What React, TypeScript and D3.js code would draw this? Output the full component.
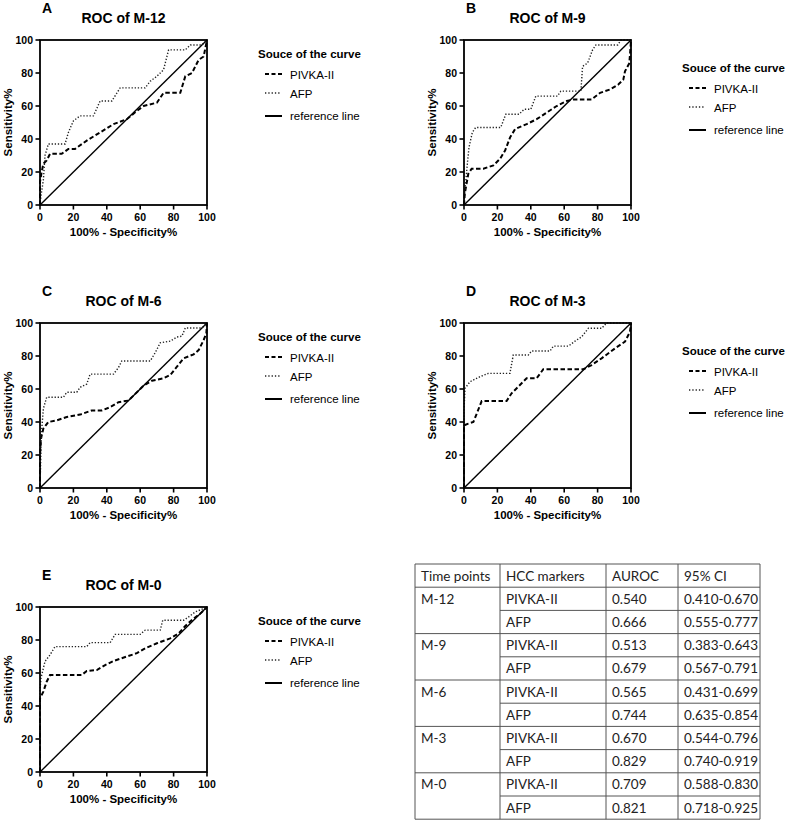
import React from "react";
import * as d3 from "d3";

type Pt = [number, number];

// ROC curves: [100% - Specificity%, Sensitivity%]
const pivkaM12: Pt[] = [[0,0],[0,14],[1,20],[2,25],[4,27],[6,31],[13,31],[17,34],[21,34],[28,39],[36,44],[44,49],[52,52],[58,57],[62,60],[70,62],[74,68],[84,68],[87,78],[91,80],[95,88],[98,90],[100,100]];
const afpM12: Pt[] = [[0,0],[0.5,5],[2,15],[3,30],[5,37],[15,37],[17,44],[20,51],[24,54],[32,54],[36,63],[43,63],[48,71],[63,71],[66,75],[70,78],[74,82],[77,94],[87,94],[90,97],[97,97],[100,100]];
const pivkaM9: Pt[] = [[0,0],[0.5,7],[2.6,19],[4.6,22],[11.6,22],[17.6,24],[21.6,28],[24.6,33],[27.6,41],[30.6,46],[37.5,49],[43.5,52],[49.5,56],[55.5,60],[61.5,63],[65.5,64],[76.4,64],[81.5,68],[87.4,70],[92.4,73],[95.4,76],[96.4,81],[99,86],[99.6,94],[100,100]];
const afpM9: Pt[] = [[0,0],[0.5,8],[2,25],[3,35],[5,44],[7,47],[22,47],[25,55],[33,55],[36,58],[40,58],[43,66],[56,66],[58,69],[70,69],[71,84],[74,86],[77,94],[79,97],[92,97],[94,100],[100,100]];
const pivkaM6: Pt[] = [[0,0],[0,20],[0.6,30],[2,36],[5,40],[10,41],[16,43],[24,44.5],[31,47],[37,47],[42,49],[47,52],[53,53],[56,56],[62,62],[67,65],[74,66.5],[78,68.5],[82,73.5],[86,78.6],[92,81],[95,83.6],[98,89.7],[99.6,93.7],[100,100]];
const afpM6: Pt[] = [[0,0],[0.5,20],[1,35],[2,48],[4,55],[14,55],[16,58],[22,58],[24,61],[28,63],[30,69],[44,69],[47,73],[49,77],[66,77],[69,82],[72,88],[78,89],[82,91.5],[85,92],[87,97],[97,97],[100,100]];
const pivkaM3: Pt[] = [[0,0],[0,38],[2.6,39],[5.6,40],[7.6,45],[10.6,52.7],[25.5,52.7],[28.5,57.4],[32.5,61.4],[37.5,66.5],[43.5,66.5],[47.5,72],[71.5,72],[76.4,74.5],[82.4,78.6],[90.4,84.6],[96.4,88.7],[99.4,94.7],[100,100]];
const afpM3: Pt[] = [[0,0],[0,47],[0.6,60.4],[3.6,64.4],[9.6,67.5],[14.6,69.5],[27.5,69.5],[29.5,80.6],[38.5,80.6],[40.5,83],[51.5,83],[53.5,86],[62.5,86],[66.5,89],[70.5,91.7],[74.5,96.8],[82.4,96.8],[85.4,100],[100,100]];
const pivkaM0: Pt[] = [[0,0],[0,44.6],[2,48.7],[4,54.7],[6,58.8],[25,58.8],[28,61.2],[34,61.8],[39,64.8],[44,67.3],[52,70],[58,72],[63,75],[70,78],[78,81],[83,84],[87,88.5],[92,93],[96,96],[100,100]];
const afpM0: Pt[] = [[0,0],[0,50],[0.6,57],[3,67],[6,71],[9,76],[28,76],[30,78.4],[42,78.4],[45,83.4],[60,83.4],[63,86],[72,86],[73.5,92],[86,92],[89,94],[93,97],[100,100]];
const referenceLine: Pt[] = [[0,0],[100,100]];

const panelLetters = ["A", "B", "C", "D", "E"];
const panelTitles = ["ROC of M-12", "ROC of M-9", "ROC of M-6", "ROC of M-3", "ROC of M-0"];
const pivkaCurves = [pivkaM12, pivkaM9, pivkaM6, pivkaM3, pivkaM0];
const afpCurves = [afpM12, afpM9, afpM6, afpM3, afpM0];
const axisTicks = [0, 20, 40, 60, 80, 100];
const legendTitle = "Souce of the curve";
const legendLabels = ["PIVKA-II", "AFP", "reference line"];

// Table
const tableHeader = ["Time points", "HCC markers", "AUROC", "95% CI"];
const timePoints = ["M-12", "M-9", "M-6", "M-3", "M-0"];
const markers = ["PIVKA-II", "AFP"];
const aurocPivka = [0.540, 0.513, 0.565, 0.670, 0.709];
const aurocAfp = [0.666, 0.679, 0.744, 0.829, 0.821];
const ciPivka = ["0.410-0.670", "0.383-0.643", "0.431-0.699", "0.544-0.796", "0.588-0.830"];
const ciAfp = ["0.555-0.777", "0.567-0.791", "0.635-0.854", "0.740-0.919", "0.718-0.925"];

const FONT = "'Liberation Sans', Arial, sans-serif";
const TFONT = "Lato, 'Open Sans', sans-serif";

const panelPos = [
  { x: 40, y: 40, ldy: 0 },
  { x: 464, y: 40, ldy: 14 },
  { x: 40, y: 323, ldy: 0 },
  { x: 464, y: 323, ldy: 14 },
  { x: 40, y: 607, ldy: 0 },
];
const PW = 167;
const PH = 165;

function Panel({ idx }: { idx: number }) {
  const { x, y, ldy } = panelPos[idx];
  const xs = d3.scaleLinear().domain([0, 100]).range([0, PW]);
  const ys = d3.scaleLinear().domain([0, 100]).range([PH, 0]);
  const line = d3.line<Pt>().x((d) => xs(d[0])).y((d) => ys(d[1]));
  return (
    <g transform={`translate(${x},${y})`} fontFamily={FONT}>
      <text x={2} y={-27} fontSize={14} fontWeight="bold">{panelLetters[idx]}</text>
      <text x={PW / 2} y={-17} fontSize={14} fontWeight="bold" textAnchor="middle">{panelTitles[idx]}</text>
      {/* curves */}
      <path d={line(referenceLine) || ""} fill="none" stroke="#000" strokeWidth={1.4} />
      <path d={line(pivkaCurves[idx]) || ""} fill="none" stroke="#000" strokeWidth={2} strokeDasharray="4.5,2.5" />
      <path d={line(afpCurves[idx]) || ""} fill="none" stroke="#222" strokeWidth={1.4} strokeDasharray="1.3,1.8" />
      {/* frame */}
      <rect x={0} y={0} width={PW} height={PH} fill="none" stroke="#000" strokeWidth={1.8} />
      {axisTicks.map((t) => (
        <g key={"x" + t}>
          <line x1={xs(t)} x2={xs(t)} y1={PH} y2={PH + 4.5} stroke="#000" strokeWidth={1.6} />
          <text x={xs(t)} y={PH + 16} fontSize={10.5} fontWeight="bold" textAnchor="middle">{t}</text>
        </g>
      ))}
      {axisTicks.map((t) => (
        <g key={"y" + t}>
          <line x1={-4.5} x2={0} y1={ys(t)} y2={ys(t)} stroke="#000" strokeWidth={1.6} />
          <text x={-7} y={ys(t) + 3.8} fontSize={10.5} fontWeight="bold" textAnchor="end">{t}</text>
        </g>
      ))}
      <text x={PW / 2} y={PH + 31} fontSize={11.5} fontWeight="bold" textAnchor="middle">100% - Specificity%</text>
      <text transform={`translate(${-28},${PH / 2}) rotate(-90)`} fontSize={11.5} fontWeight="bold" textAnchor="middle">Sensitivity%</text>
      {/* legend */}
      <g transform={`translate(${PW + 51},${ldy})`}>
        <text x={0} y={17.5} fontSize={11.5} fontWeight="bold">{legendTitle}</text>
        <line x1={7} x2={24} y1={34} y2={34} stroke="#000" strokeWidth={2} strokeDasharray="4,2.5" />
        <text x={32} y={38.5} fontSize={11.5}>{legendLabels[0]}</text>
        <line x1={7} x2={22} y1={53} y2={53} stroke="#222" strokeWidth={1.3} strokeDasharray="1.3,2" />
        <text x={32} y={57.5} fontSize={11.5}>{legendLabels[1]}</text>
        <line x1={7} x2={24} y1={76} y2={76} stroke="#000" strokeWidth={2} />
        <text x={32} y={80} fontSize={11.5}>{legendLabels[2]}</text>
      </g>
    </g>
  );
}

function Table() {
  const cols = [415, 500, 606, 678, 760];
  const top = 564;
  const rowH = 23.2;
  const nRows = 1 + timePoints.length * 2;
  const bottom = top + nRows * rowH;
  const lines: React.ReactNode[] = [];
  for (let r = 0; r <= nRows; r++) {
    const yy = top + r * rowH;
    const inner = r > 1 && r < nRows && (r - 1) % 2 === 1;
    lines.push(
      <line key={"h" + r} x1={inner ? cols[1] : cols[0]} x2={cols[4]} y1={yy} y2={yy} stroke="#555" strokeWidth={1} />
    );
  }
  cols.forEach((c, i) =>
    lines.push(<line key={"v" + i} x1={c} x2={c} y1={top} y2={bottom} stroke="#555" strokeWidth={1} />)
  );
  const cells: React.ReactNode[] = [];
  const ty = (r: number) => top + r * rowH + 16.5;
  tableHeader.forEach((h, i) =>
    cells.push(<text key={"hd" + i} x={cols[i] + 6} y={ty(0)}>{h}</text>)
  );
  timePoints.forEach((tp, g) => {
    const r1 = 1 + g * 2;
    const r2 = r1 + 1;
    cells.push(<text key={"tp" + g} x={cols[0] + 6} y={ty(r1)}>{tp}</text>);
    cells.push(<text key={"m1" + g} x={cols[1] + 6} y={ty(r1)}>{markers[0]}</text>);
    cells.push(<text key={"a1" + g} x={cols[2] + 6} y={ty(r1)}>{aurocPivka[g].toFixed(3)}</text>);
    cells.push(<text key={"c1" + g} x={cols[3] + 6} y={ty(r1)}>{ciPivka[g]}</text>);
    cells.push(<text key={"m2" + g} x={cols[1] + 6} y={ty(r2)}>{markers[1]}</text>);
    cells.push(<text key={"a2" + g} x={cols[2] + 6} y={ty(r2)}>{aurocAfp[g].toFixed(3)}</text>);
    cells.push(<text key={"c2" + g} x={cols[3] + 6} y={ty(r2)}>{ciAfp[g]}</text>);
  });
  return (
    <g fontFamily={TFONT} fontSize={13.5} fill="#222">
      <rect x={cols[0]} y={top} width={cols[4] - cols[0]} height={bottom - top} fill="#fff" />
      {lines}
      {cells}
    </g>
  );
}

export default function App() {
  return (
    <svg
      width={787}
      height={825}
      viewBox="0 0 787 825"
      style={{ position: "absolute", left: 0, top: 0, background: "#fff" }}
    >
      <rect width={787} height={825} fill="#fff" />
      {panelPos.map((_, i) => (
        <Panel key={i} idx={i} />
      ))}
      <Table />
    </svg>
  );
}
